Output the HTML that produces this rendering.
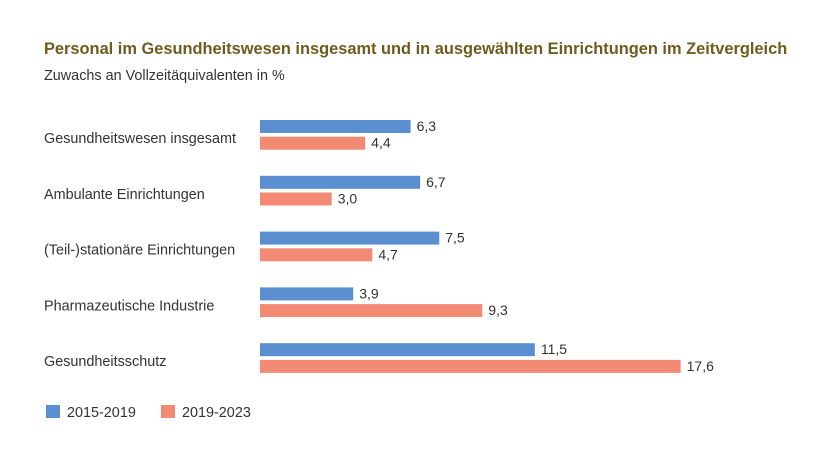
<!DOCTYPE html>
<html><head><meta charset="utf-8"><style>
body{margin:0;background:#fff;width:827px;height:446px;overflow:hidden;font-family:"Liberation Sans",sans-serif}
svg text{font-family:"Liberation Sans",sans-serif}
</style></head><body>
<svg id="chart" width="827" height="446" xmlns="http://www.w3.org/2000/svg">
<text x="44" y="54" font-size="16.4" font-weight="bold" fill="#6e5c1f">Personal im Gesundheitswesen insgesamt und in ausgewählten Einrichtungen im Zeitvergleich</text>
<text x="44" y="80" font-size="14.4" fill="#333">Zuwachs an Vollzeitäquivalenten in %</text>
<g id="bars"></g>
<g>
<rect x="46" y="405" width="14" height="13" fill="#5b8fd1"/>
<text x="67" y="417" font-size="14.4" fill="#333">2015-2019</text>
<rect x="161" y="405" width="14" height="13" fill="#f38a74"/>
<text x="182" y="417" font-size="14.4" fill="#333">2019-2023</text>
</g>
</svg>
<script>
const categories=["Gesundheitswesen insgesamt","Ambulante Einrichtungen","(Teil-)stationäre Einrichtungen","Pharmazeutische Industrie","Gesundheitsschutz"];
const series1=[6.3,6.7,7.5,3.9,11.5];
const series2=[4.4,3.0,4.7,9.3,17.6];
const x0=260, pxPerUnit=23.9, groupTop=120, groupStep=55.8, barH=13;
const xs=v=>x0+v*pxPerUnit;
const g=document.getElementById('bars');
const NS='http://www.w3.org/2000/svg';
const fmt=v=>v.toFixed(1).replace('.',',');
categories.forEach((c,i)=>{
  const y=groupTop+i*groupStep;
  const t=document.createElementNS(NS,'text');
  
  
  t.setAttribute('x',44);t.setAttribute('y',y+23);t.setAttribute('font-size','14.4');t.setAttribute('fill','#333');
  t.textContent=c;g.appendChild(t);
  [[series1[i],'#5b8fd1',y,'bar-2015-2019'],[series2[i],'#f38a74',y+16.7,'bar-2019-2023']].forEach(([v,col,by,nm])=>{
    const r=document.createElementNS(NS,'rect');
    
    
    r.setAttribute('x',x0);r.setAttribute('y',by);r.setAttribute('width',xs(v)-x0);r.setAttribute('height',barH);r.setAttribute('fill',col);
    g.appendChild(r);
    const l=document.createElementNS(NS,'text');
    
    
    l.setAttribute('x',xs(v)+6);l.setAttribute('y',by+11);l.setAttribute('font-size','14');l.setAttribute('fill','#333');
    l.textContent=fmt(v);g.appendChild(l);
  });
});
</script>
</body></html>
